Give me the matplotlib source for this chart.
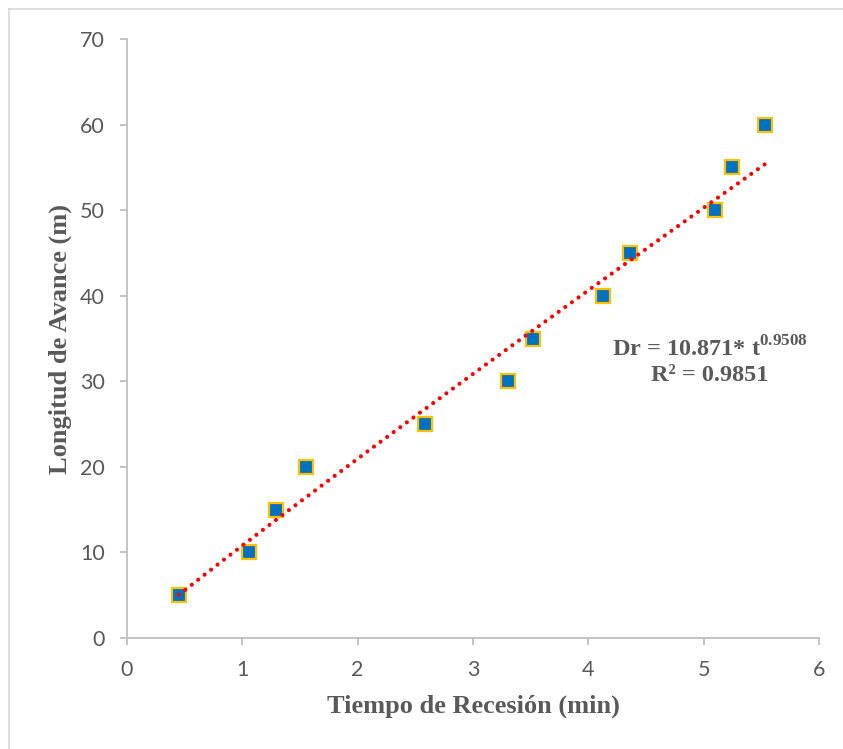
import matplotlib
matplotlib.use("Agg")
import matplotlib.pyplot as plt
import numpy as np

# tiempo de recesion (min) y longitud de avance (m)
tiempo = [0.45, 1.06, 1.29, 1.55, 2.58, 3.30, 3.52, 4.13, 4.36, 5.10, 5.25, 5.53]
longitud = [5, 10, 15, 20, 25, 30, 35, 40, 45, 50, 55, 60]

x_ticks = [0, 1, 2, 3, 4, 5, 6]
y_ticks = [0, 10, 20, 30, 40, 50, 60, 70]

plt.rcParams['mathtext.fontset'] = 'custom'
plt.rcParams['mathtext.rm'] = 'Liberation Serif:bold'
plt.rcParams['mathtext.bf'] = 'Liberation Serif:bold'

grey = '#595959'
axis_grey = '#BFBFBF'

fig = plt.figure(figsize=(8.43, 7.49), dpi=100)
ax = fig.add_axes([0.1507, 0.1482, 0.8208, 0.7997])

# linea de tendencia potencial (ajuste en escala log)
t = np.array(tiempo)
d = np.array(longitud)
b, ln_a = np.polyfit(np.log(t), np.log(d), 1)
tt = np.linspace(t.min(), t.max(), 200)
ax.plot(tt, np.exp(ln_a) * tt ** b, color='#FF0000', lw=3,
        linestyle=(0, (0.01, 1.95)), dash_capstyle='round', zorder=3)

ax.plot(tiempo, longitud, linestyle='none', marker='s', markersize=10.5,
        markerfacecolor='#0070C0', markeredgecolor='#FFC000',
        markeredgewidth=1.6, zorder=2)

ax.set_xlim(0, 6)
ax.set_ylim(0, 70)
ax.set_xticks(x_ticks)
ax.set_yticks(y_ticks)

for s in ['top', 'right']:
    ax.spines[s].set_visible(False)
for s in ['left', 'bottom']:
    ax.spines[s].set_color(axis_grey)
    ax.spines[s].set_linewidth(1.3)
ax.tick_params(axis='both', colors=axis_grey, length=5, width=1.3,
               labelcolor=grey, labelsize=15.5, pad=11)
for lab in ax.get_xticklabels() + ax.get_yticklabels():
    lab.set_fontfamily('Lato')

ax.set_xlabel('Tiempo de Recesión (min)', fontfamily='Liberation Serif',
              fontweight='bold', fontsize=19, color=grey, labelpad=10)
ax.set_ylabel('Longitud de Avance (m)', fontfamily='Liberation Serif',
              fontweight='bold', fontsize=19, color=grey, labelpad=6)

ax.text(0.842, 0.518, 'Dr = 10.871* t$^{0.9508}$\nR² = 0.9851',
        transform=fig.transFigure, ha='center', va='center',
        fontfamily='Liberation Serif', fontweight='bold', fontsize=17.5,
        color=grey, linespacing=1.2, multialignment='center')

# marco del grafico
fig.add_artist(plt.Line2D([9 / 843, 9 / 843], [0, 1 - 9 / 749],
                          transform=fig.transFigure, color='#D9D9D9', lw=1.2))
fig.add_artist(plt.Line2D([9 / 843, 1], [1 - 9 / 749, 1 - 9 / 749],
                          transform=fig.transFigure, color='#D9D9D9', lw=1.2))

fig.savefig('out.png', dpi=100)
